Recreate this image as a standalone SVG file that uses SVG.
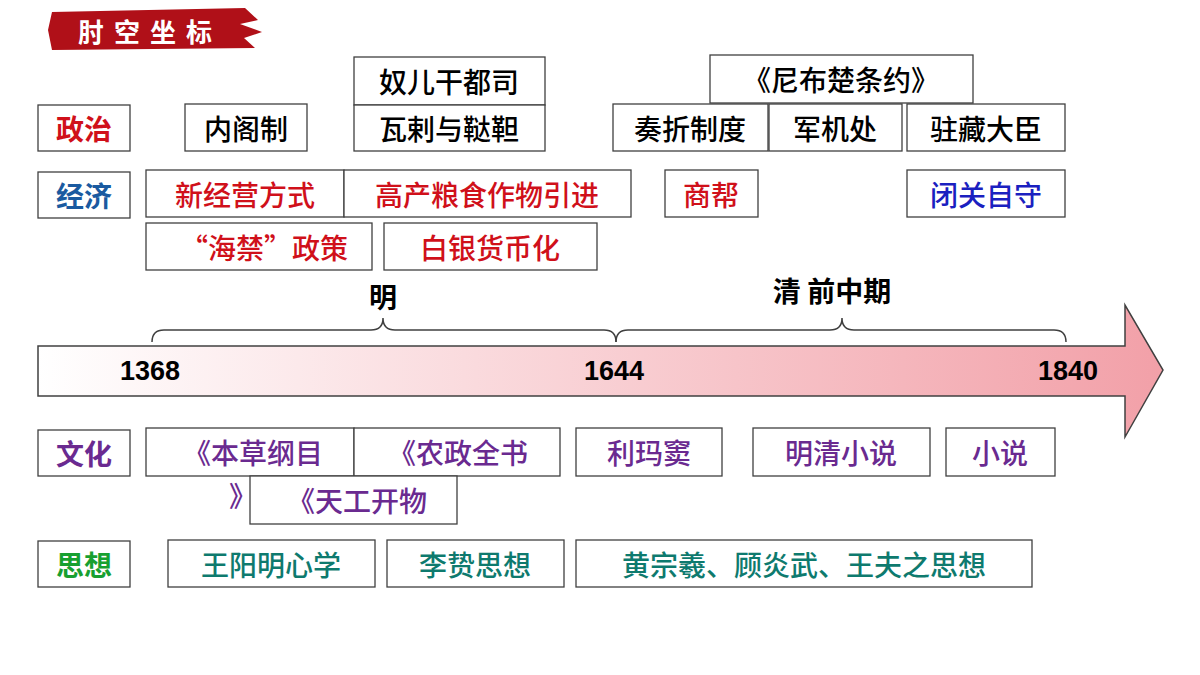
<svg xmlns="http://www.w3.org/2000/svg" width="1200" height="675" viewBox="0 0 1200 675">
<style>
text{font-family:"Noto Sans CJK SC","Liberation Sans",sans-serif;text-anchor:middle;dominant-baseline:central}
.b{fill:#fff;stroke:#404040;stroke-width:1.3}
.t{font-size:28px;font-weight:500}
.k{fill:#000}.r{fill:#d0101a}.bl{fill:#1a20c0}.p{fill:#6a2a90}.g{fill:#0e7a6e}
.lab{font-size:28px;font-weight:bold}
.yr{font-size:27px;font-weight:bold;font-family:"Liberation Sans",sans-serif}
</style>
<defs><linearGradient id="ag" x1="0" x2="1"><stop offset="0" stop-color="#fff"/><stop offset="1" stop-color="#f2a0a8"/></linearGradient></defs>
<g id="title"><path d="M52 12 L245 8 L258 20 L240 24 L262 32 L244 38 L255 48 L52 50 L48 30 Z" fill="#b01018"/>
<text x="150" y="30" font-size="26" fill="#fff" font-weight="bold" letter-spacing="10">肘空坐标</text></g>
<g id="timeline">
<path d="M38 346 H1125 V305 L1163 370 L1125 437 V396 H38 Z" fill="url(#ag)" stroke="#404040" stroke-width="1.5"/>
<text class="yr" x="150" y="371">1368</text><text class="yr" x="614" y="371">1644</text><text class="yr" x="1068" y="371">1840</text>
</g>
<g id="braces" fill="none" stroke="#404040" stroke-width="1.5">
<path d="M152 342 Q152 330 164 330 H371 Q383 330 383 318 Q383 330 395 330 H604 Q616 330 616 342"/>
<path d="M616 342 Q616 330 628 330 H830 Q842 330 842 318 Q842 330 854 330 H1054 Q1066 330 1066 342"/>
</g>
<text class="lab k" x="383" y="296">明</text><text class="lab k" x="832" y="290">清 前中期</text>
<g id="labels">
<rect class="b" x="38" y="105" width="92" height="46"/><text class="lab r" x="84" y="128">政治</text>
<rect class="b" x="38" y="172" width="92" height="46"/><text class="lab" fill="#1a5aa0" x="84" y="195">经济</text>
<rect class="b" x="38" y="430" width="92" height="46"/><text class="lab p" x="84" y="453">文化</text>
<rect class="b" x="38" y="541" width="92" height="46"/><text class="lab" fill="#17a030" x="84" y="564">思想</text>
</g>
<g id="politics">
<rect class="b" x="185" y="104" width="122" height="47"/><text class="t k" x="246" y="128">内阁制</text>
<rect class="b" x="354" y="57" width="191" height="48"/><text class="t k" x="449" y="81">奴儿干都司</text>
<rect class="b" x="354" y="105" width="191" height="46"/><text class="t k" x="449" y="128">瓦剌与鞑靼</text>
<rect class="b" x="710" y="55" width="263" height="48"/><text class="t k" x="841" y="79">《尼布楚条约》</text>
<rect class="b" x="613" y="104" width="155" height="47"/><text class="t k" x="690" y="128">奏折制度</text>
<rect class="b" x="769" y="104" width="133" height="47"/><text class="t k" x="835" y="128">军机处</text>
<rect class="b" x="907" y="104" width="158" height="47"/><text class="t k" x="986" y="128">驻藏大臣</text>
</g>
<g id="economy">
<rect class="b" x="146" y="170" width="198" height="47"/><text class="t r" x="245" y="194">新经营方式</text>
<rect class="b" x="344" y="170" width="287" height="47"/><text class="t r" x="487" y="194">高产粮食作物引进</text>
<rect class="b" x="665" y="170" width="93" height="47"/><text class="t r" x="711" y="194">商帮</text>
<rect class="b" x="907" y="170" width="158" height="47"/><text class="t bl" x="986" y="194">闭关自守</text>
<rect class="b" x="146" y="223" width="226" height="47"/><text class="t r" x="264" y="247">“海禁”政策</text>
<rect class="b" x="384" y="223" width="213" height="47"/><text class="t r" x="490" y="247">白银货币化</text>
</g>
<g id="culture">
<text class="t p" x="243" y="495">》</text>
<rect class="b" x="146" y="428" width="208" height="48"/><text class="t p" x="253" y="452">《本草纲目</text>
<rect class="b" x="354" y="428" width="206" height="48"/><text class="t p" x="458" y="452">《农政全书</text>
<rect class="b" x="250" y="476" width="207" height="48"/><text class="t p" x="357" y="500">《天工开物</text>
<rect class="b" x="576" y="428" width="146" height="48"/><text class="t p" x="649" y="452">利玛窦</text>
<rect class="b" x="753" y="428" width="177" height="48"/><text class="t p" x="841" y="452">明清小说</text>
<rect class="b" x="946" y="428" width="109" height="48"/><text class="t p" x="1000" y="452">小说</text>
</g>
<g id="thought">
<rect class="b" x="168" y="540" width="207" height="47"/><text class="t g" x="271" y="564">王阳明心学</text>
<rect class="b" x="387" y="540" width="177" height="47"/><text class="t g" x="475" y="564">李贽思想</text>
<rect class="b" x="576" y="540" width="456" height="47"/><text class="t g" x="804" y="564">黄宗羲、顾炎武、王夫之思想</text>
</g>
</svg>
